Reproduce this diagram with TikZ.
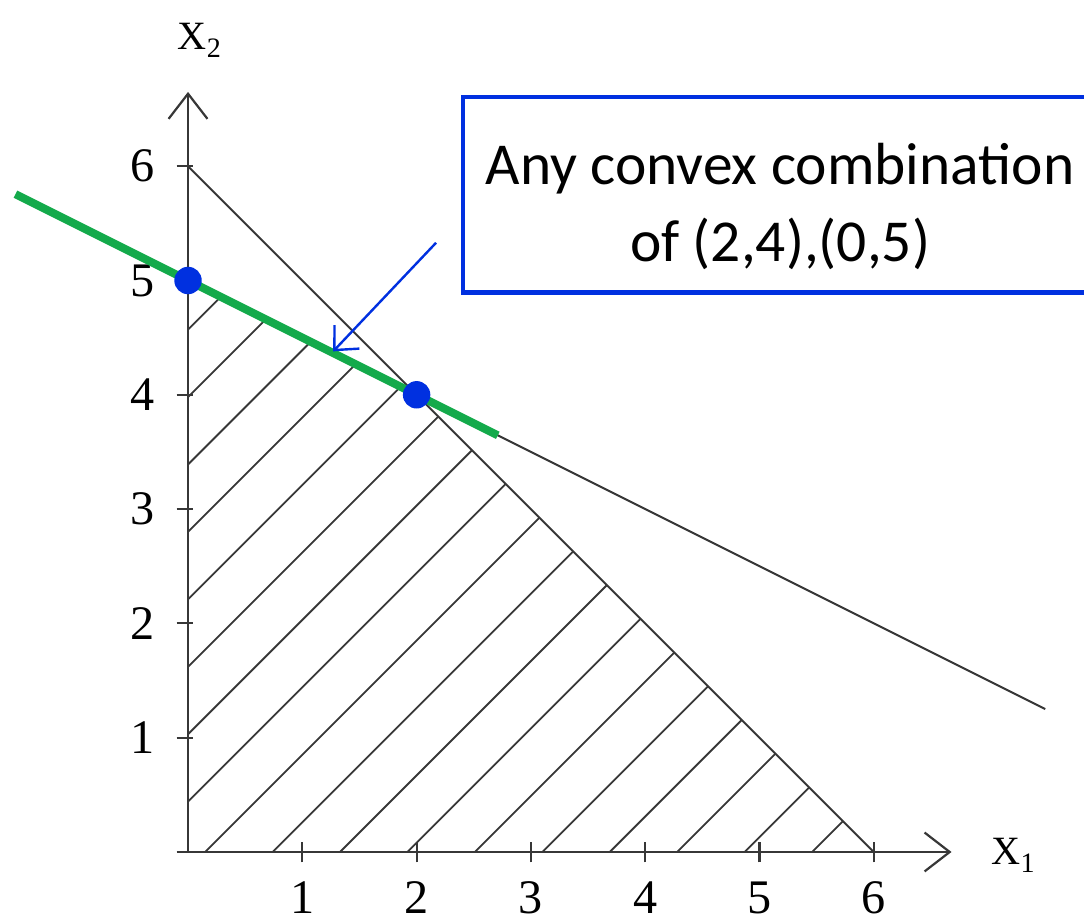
\documentclass[tikz,border=0pt]{standalone}
\usepackage{fontspec}
\setmainfont{Liberation Serif}
\newfontfamily\boxfont{Carlito}
\usepackage{xcolor}
\usetikzlibrary{arrows.meta,positioning}

\definecolor{ptblue}{RGB}{0,48,224}
\definecolor{seggreen}{RGB}{20,170,75}
\definecolor{inkgray}{RGB}{55,55,55}

\begin{document}
\begin{tikzpicture}[
        axis/.style={line width=0.55pt, inkgray, -{Straight Barb[length=2.2mm, width=3.4mm, line width=0.55pt]}},
        cons/.style={line width=0.5pt, inkgray},
        hatch/.style={line width=0.45pt, inkgray},
        tickmark/.style={line width=0.55pt, inkgray},
        num/.style={font=\fontsize{12}{14}\selectfont, inner sep=0pt},
        axlab/.style={font=\fontsize{10}{12}\selectfont, inner sep=0pt},
        vertex/.style={circle, fill=ptblue, inner sep=0pt, minimum size=2.4mm},
        segment/.style={line width=2pt, seggreen},
        pointer/.style={line width=0.6pt, ptblue, -{Straight Barb[length=1.6mm, width=3mm, line width=0.6pt]}},
        notebox/.style={rectangle, draw=ptblue, line width=1pt, minimum width=5.55cm, minimum height=1.71cm},
        notetext/.style={align=center, inner sep=0pt, font=\boxfont\fontsize{14.8}{19.2}\selectfont},
    ]

        \useasboundingbox (-1.645,-0.586) rectangle (7.839,7.454);

        % feasible region, hatched
        \begin{scope}
            \clip (0,0) -- (6,0) -- (2,4) -- (0,5) -- cycle;
            \foreach \c in {5.46,4.87,...,-4.6}
                \draw[hatch] (\c,0) -- ++(6,6);
        \end{scope}

        % axes
        \coordinate (O) at (0,0);
        \coordinate (xstart) at (-0.1,0);
        \coordinate (xend) at (6.68,0);
        \coordinate (yend) at (0,6.65);
        \draw[axis] (xstart) -- (xend);
        \draw[axis] (O) -- (yend);
        \node[axlab] (x1lab) at (7.22,-0.03) {X\raisebox{-0.45ex}{\fontsize{7}{8}\selectfont 1}};
        \node[axlab] (x2lab) at (0.1,7.1) {X\raisebox{-0.45ex}{\fontsize{7}{8}\selectfont 2}};

        \foreach \i in {1,...,6} {
            \draw[tickmark] (\i,-0.09) -- (\i,0.09);
            \node[num] at (\i,-0.40) {\i};
            \draw[tickmark] (-0.1,\i) -- (0.04,\i);
            \node[num] at (-0.40,\i) {\i};
        }

        % constraints
        \coordinate (c1a) at (0,6);
        \coordinate (c1b) at (6,0);
        \coordinate (p24) at (2,4);
        \coordinate (p05) at (0,5);
        \coordinate (c2b) at (7.5,1.25);
        \draw[cons] (c1a) -- (c1b);
        \draw[cons] (p24) -- (c2b);

        % optimal edge
        \coordinate (gl) at (-1.51,5.755);
        \coordinate (gr) at (2.71,3.645);
        \draw[segment] (gl) -- (gr);
        \node[vertex] (A) at (p05) {};
        \node[vertex] (B) at (p24) {};

        % note
        \node[notebox] (note) at (5.18,5.75) {};
        \node[notetext] (notetxt) at ([yshift=-0.1cm]note.center) {Any convex combination\\of (2,4),(0,5)};
        \coordinate (tail) at (2.17,5.33);
        \coordinate (head) at (1.27,4.38);
        \draw[pointer] (tail) -- (head);

    \end{tikzpicture}
\end{document}
